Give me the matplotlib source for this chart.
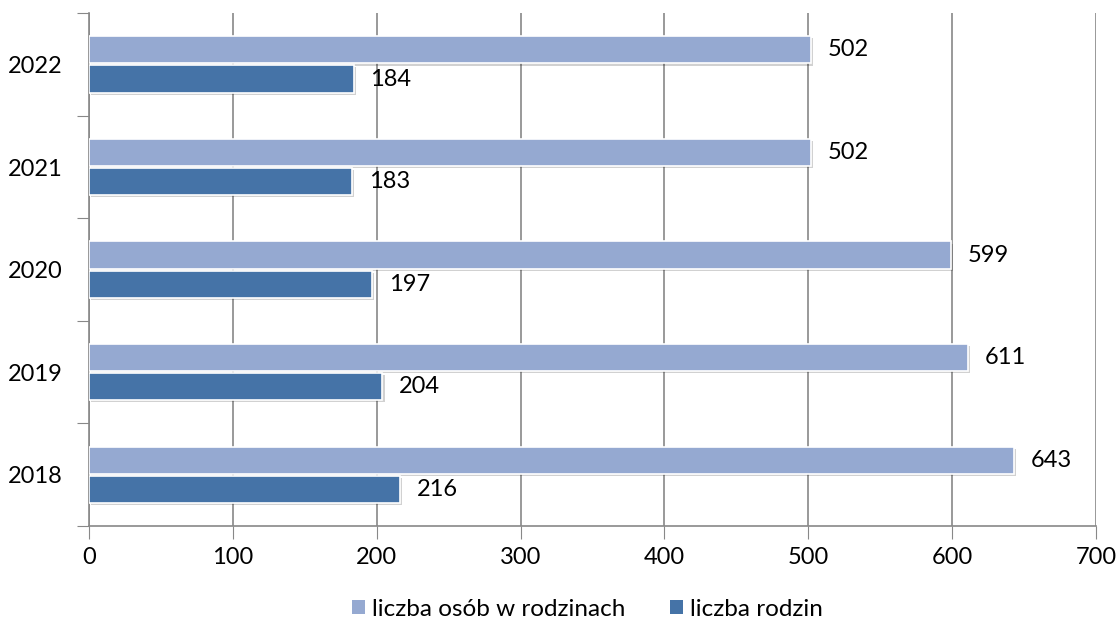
import numpy as np
import matplotlib
matplotlib.use("Agg")
from matplotlib import pyplot as plt
import matplotlib.patheffects as pe

plt.rcParams['font.family'] = ['Lato', 'DejaVu Sans']

# dane
lata = ['2018', '2019', '2020', '2021', '2022']
osoby = [643, 611, 599, 502, 502]
rodziny = [216, 204, 197, 183, 184]
etykiety = ['liczba osób w rodzinach', 'liczba rodzin']
kolory = ['#95A9D1', '#4573A7']

fig = plt.figure(figsize=(11.19, 6.26), dpi=100)
ax = fig.add_axes([0.0795, 0.1597, 0.9, 0.8193])

y = np.arange(len(lata))
h = 0.265
cien = [pe.SimplePatchShadow(offset=(1.5, -1.5), shadow_rgbFace='#000000', alpha=0.18), pe.Normal()]
b1 = ax.barh(y + 0.142, osoby, height=h, color=kolory[0], edgecolor='white', lw=1.2,
             label=etykiety[0], zorder=3, path_effects=cien)
b2 = ax.barh(y - 0.142, rodziny, height=h, color=kolory[1], edgecolor='white', lw=1.2,
             label=etykiety[1], zorder=3, path_effects=cien)

for bars in (b1, b2):
    for r in bars:
        ax.annotate(str(int(r.get_width())), (r.get_width(), r.get_y() + r.get_height() / 2),
                    xytext=(12, 0), textcoords='offset points', va='center', ha='left',
                    fontsize=17, color='black', zorder=4)

ax.set_xlim(0, 700)
ax.set_ylim(-0.5, len(lata) - 0.5)
ax.set_xticks(np.arange(0, 701, 100))
ax.set_yticks(np.arange(-0.5, len(lata), 1))
ax.set_yticklabels([])
ax.set_yticks(y, lata, minor=True)
ax.tick_params(axis='y', which='minor', length=0, labelsize=17, pad=19)
ax.tick_params(axis='y', which='major', length=9, color='#888888')
ax.tick_params(axis='x', length=9, color='#888888', labelsize=17, pad=6)
ax.grid(axis='x', color='#888888', lw=1.2, zorder=0)
for s in ['top', 'right']:
    ax.spines[s].set_visible(False)
for s in ['left', 'bottom']:
    ax.spines[s].set_color('#888888')
    ax.spines[s].set_linewidth(1.2)

leg = fig.legend(handles=[b1, b2], loc='center', bbox_to_anchor=(0.525, 0.027), ncol=2,
                 frameon=False, fontsize=17.5, handlelength=0.55, handleheight=0.55,
                 columnspacing=1.8, handletextpad=0.3, borderpad=0, borderaxespad=0)
for p in leg.get_patches():
    p.set_path_effects([])
    p.set_edgecolor('none')

plt.savefig('out.png', dpi=100)
